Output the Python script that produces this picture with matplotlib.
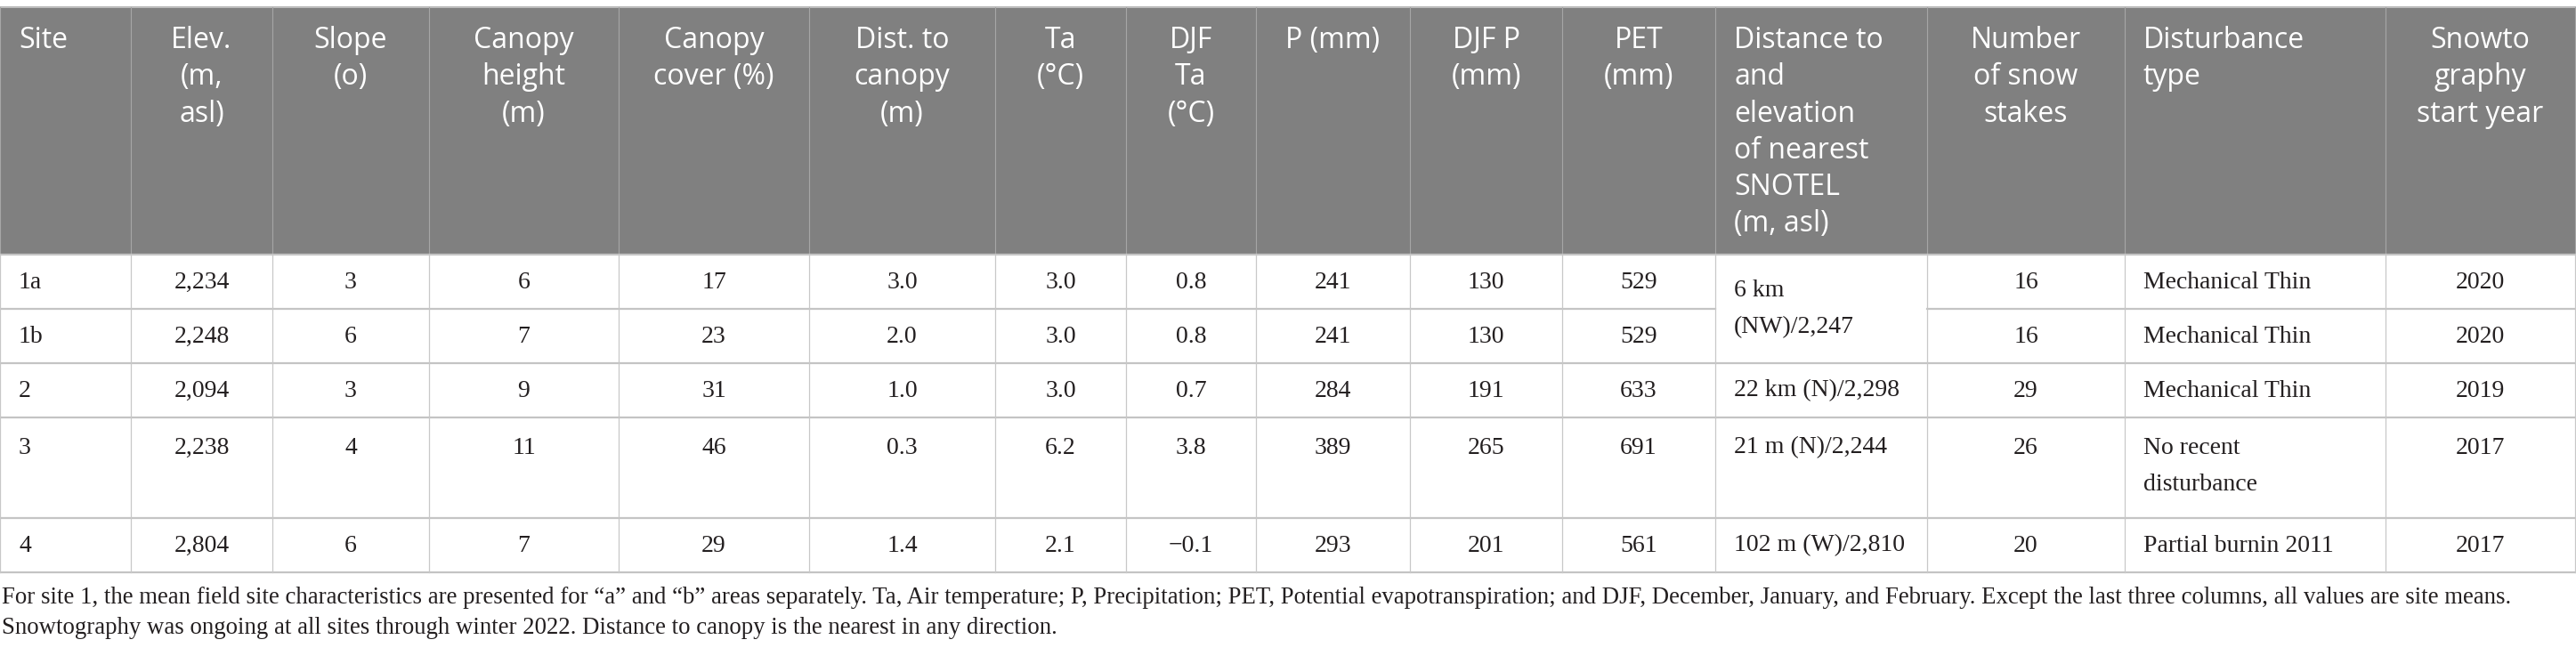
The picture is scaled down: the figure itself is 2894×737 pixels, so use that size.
import matplotlib
matplotlib.use("Agg")
import matplotlib.pyplot as plt
from matplotlib.patches import Rectangle

# table content
headers = ["Site", "Elev.\n(m,\nasl)", "Slope\n(o)", "Canopy\nheight\n(m)", "Canopy\ncover (%)",
           "Dist. to\ncanopy\n(m)", "Ta\n(°C)", "DJF\nTa\n(°C)", "P (mm)", "DJF P\n(mm)", "PET\n(mm)",
           "Distance to\nand\nelevation\nof nearest\nSNOTEL\n(m, asl)", "Number\nof snow\nstakes",
           "Disturbance\ntype", "Snowto\ngraphy\nstart year"]

sites = ["1a", "1b", "2", "3", "4"]
elev = ["2,234", "2,248", "2,094", "2,238", "2,804"]
slope = ["3", "6", "3", "4", "6"]
canopy_height = ["6", "7", "9", "11", "7"]
canopy_cover = ["17", "23", "31", "46", "29"]
dist_canopy = ["3.0", "2.0", "1.0", "0.3", "1.4"]
ta = ["3.0", "3.0", "3.0", "6.2", "2.1"]
djf_ta = ["0.8", "0.8", "0.7", "3.8", "\u22120.1"]
precip = ["241", "241", "284", "389", "293"]
djf_p = ["130", "130", "191", "265", "201"]
pet = ["529", "529", "633", "691", "561"]
snotel = ["6 km\n(NW)/2,247", None, "22 km (N)/2,298", "21 m (N)/2,244", "102 m (W)/2,810"]
stakes = ["16", "16", "29", "26", "20"]
disturbance = ["Mechanical Thin", "Mechanical Thin", "Mechanical Thin", "No recent\ndisturbance",
               "Partial burnin 2011"]
start_year = ["2020", "2020", "2019", "2017", "2017"]

caption = ("For site 1, the mean field site characteristics are presented for \u201ca\u201d and \u201cb\u201d areas "
           "separately. Ta, Air temperature; P, Precipitation; PET, Potential evapotranspiration; and DJF, "
           "December, January, and February. Except the last three columns, all values are site means.\n"
           "Snowtography was ongoing at all sites through winter 2022. Distance to canopy is the nearest in any direction.")

columns = [sites, elev, slope, canopy_height, canopy_cover, dist_canopy, ta, djf_ta, precip,
           djf_p, pet, snotel, stakes, disturbance, start_year]

# layout (pixels)
W, H = 2894, 737
col_x = [0, 147, 306, 482, 695, 909, 1118, 1265, 1411, 1584, 1755, 1927, 2165, 2387, 2680, 2893]
left_cols = {0, 11, 13}
head_top, head_bot = 8, 286
row_y = [286, 347, 408, 469, 582, 643]
row_text_y = [317, 378, 439, 503, 613]

head_font = ["Open Sans", "DejaVu Sans"]
body_font = ["Liberation Serif", "DejaVu Serif"]
head_size = 23
body_size = 20
ink = "#231f20"

fig = plt.figure(figsize=(W / 100, H / 100), dpi=100)
ax = fig.add_axes([0, 0, 1, 1])
ax.set_xlim(0, W)
ax.set_ylim(H, 0)
ax.axis("off")

# header
ax.add_patch(Rectangle((0, head_top), col_x[-1], head_bot - head_top, facecolor="#808080",
                       edgecolor="none"))
ax.plot([0, col_x[-1]], [head_top, head_top], color="#bdbdbd", lw=1.5)
for x in col_x:
    ax.plot([x, x], [head_top, head_bot], color="#a6a6a6", lw=0.8)


def text_x(i):
    x0, x1 = col_x[i], col_x[i + 1]
    if i in left_cols:
        return x0 + 21, "left"
    return (x0 + x1) / 2, "center"


for i, h in enumerate(headers):
    tx, ha = text_x(i)
    ax.text(tx, 29, h, ha=ha, va="top", color="white", family=head_font, fontsize=head_size,
            linespacing=1.33, multialignment=ha)

# body grid
for j, y in enumerate(row_y):
    if j == 1:
        # merged SNOTEL cell for 1a/1b
        ax.plot([0, col_x[11]], [y, y], color="#c4c4c4", lw=1.6)
        ax.plot([col_x[12], col_x[-1]], [y, y], color="#c4c4c4", lw=1.6)
    else:
        ax.plot([0, col_x[-1]], [y, y], color="#c4c4c4", lw=1.6)
for x in col_x:
    ax.plot([x, x], [row_y[0], row_y[-1]], color="#c8c8c8", lw=0.9)

# body text
for i, col in enumerate(columns):
    tx, ha = text_x(i)
    for r, val in enumerate(col):
        if val is None:
            continue
        if i == 11 and r == 0:
            ax.text(tx, (row_y[0] + row_y[2]) / 2, val, ha=ha, va="center", color=ink,
                    family=body_font, fontsize=body_size, linespacing=1.85)
        elif "\n" in val:
            ax.text(tx, row_text_y[r] - 12, val, ha=ha, va="top", color=ink,
                    family=body_font, fontsize=body_size, linespacing=1.85)
        else:
            ax.text(tx, row_text_y[r], val, ha=ha, va="center", color=ink,
                    family=body_font, fontsize=body_size)

ax.text(2, 659, caption, ha="left", va="top", color=ink, family=body_font,
        fontsize=19.3, linespacing=1.45)

fig.savefig("out.png", dpi=100)
